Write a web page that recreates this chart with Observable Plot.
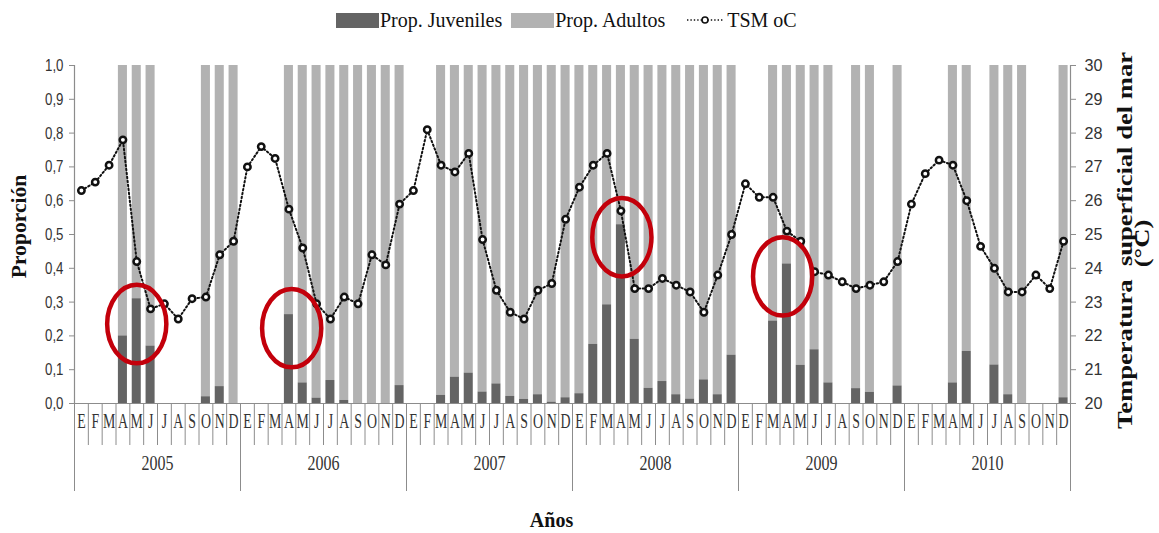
<!DOCTYPE html>
<html><head><meta charset="utf-8">
<script src="https://cdn.jsdelivr.net/npm/d3@7"></script>
<script src="https://cdn.jsdelivr.net/npm/@observablehq/plot@0.6"></script>
<style>
html,body{margin:0;padding:0;background:#fff;}
#wrap{position:relative;width:1159px;height:533px;overflow:hidden;}
#legend{position:absolute;left:336px;top:9px;height:22px;display:flex;align-items:center;font-family:"Liberation Serif",serif;font-size:20px;color:#111;white-space:nowrap;}
.item{display:flex;align-items:center;}
.sw{display:inline-block;width:43px;height:15px;margin-right:1px;}
#chart{position:absolute;left:0;top:40px;}
</style></head><body>
<div id="wrap"><div id="legend"></div><div id="chart"></div></div>
<script>
// ---- data ----
const meses = ["E","F","M","A","M","J","J","A","S","O","N","D"];
const anios = [2005, 2006, 2007, 2008, 2009, 2010];
const series = ["Prop. Juveniles", "Prop. Adultos", "TSM oC"];

const propJuveniles = [
  null, null, null, 0.20, 0.31, 0.17, null, null, null, 0.02, 0.05, 0.00,
  null, null, null, 0.263, 0.061, 0.016, 0.068, 0.009, 0.00, 0.00, 0.00, 0.053,
  null, null, 0.024, 0.078, 0.090, 0.034, 0.058, 0.021, 0.012, 0.026, 0.004, 0.017,
  0.029, 0.175, 0.292, 0.529, 0.190, 0.045, 0.065, 0.026, 0.013, 0.070, 0.026, 0.143,
  null, null, 0.244, 0.413, 0.113, 0.159, 0.061, null, 0.044, 0.033, null, 0.052,
  null, null, null, 0.061, 0.154, null, 0.114, 0.026, 0.00, null, null, 0.017
];
const propAdultos = [
  null, null, null, 0.80, 0.69, 0.83, null, null, null, 0.98, 0.95, 1.00,
  null, null, null, 0.737, 0.939, 0.984, 0.932, 0.991, 1.00, 1.00, 1.00, 0.947,
  null, null, 0.976, 0.922, 0.910, 0.966, 0.942, 0.979, 0.988, 0.974, 0.996, 0.983,
  0.971, 0.825, 0.708, 0.471, 0.810, 0.955, 0.935, 0.974, 0.987, 0.930, 0.974, 0.857,
  null, null, 0.756, 0.587, 0.887, 0.841, 0.939, null, 0.956, 0.967, null, 0.948,
  null, null, null, 0.939, 0.846, null, 0.886, 0.974, 1.00, null, null, 0.983
];
const tsm = [
  26.3, 26.55, 27.05, 27.8, 24.2, 22.8, 22.95, 22.5, 23.1, 23.15, 24.4, 24.8,
  27.0, 27.6, 27.25, 25.75, 24.6, 22.95, 22.5, 23.15, 22.95, 24.4, 24.1, 25.9,
  26.3, 28.1, 27.05, 26.85, 27.4, 24.85, 23.35, 22.7, 22.5, 23.35, 23.55, 25.45,
  26.4, 27.05, 27.4, 25.7, 23.4, 23.4, 23.7, 23.5, 23.3, 22.7, 23.8, 25.0,
  26.5, 26.1, 26.1, 25.1, 24.8, 23.9, 23.8, 23.6, 23.4, 23.5, 23.6, 24.2,
  25.9, 26.8, 27.2, 27.05, 26.0, 24.65, 24.0, 23.3, 23.3, 23.8, 23.4, 24.8
];
const propTicks = [0, 0.1, 0.2, 0.3, 0.4, 0.5, 0.6, 0.7, 0.8, 0.9, 1.0];
const tsmMin = 20, tsmMax = 30;
const tituloY = "Proporción", tituloY2a = "Temperatura  superficial del mar", tituloY2b = "(°C)", tituloX = "Años";
// highlighted (red ellipses): position in months from Jan 2005, and proportion
const resaltoMes = [4.5, 15.7, 39.57, 51.19];
const resaltoProp = [0.235, 0.223, 0.492, 0.376];

// ---- colours ----
const cJuv = "#646464", cAdu = "#b2b2b2", cAxis = "#8c8c8c", cRed = "#c3000b";

// ---- legend ----
const legend = document.getElementById("legend");
legend.innerHTML =
  `<span class="item"><span class="sw" style="background:${cJuv}"></span>${series[0]}</span>` +
  `<span class="item" style="margin-left:9px"><span class="sw" style="background:${cAdu}"></span>${series[1]}</span>` +
  `<span class="item" style="margin-left:21px"><svg width="38" height="14" style="margin-right:3px"><line x1="1" x2="37" y1="7" y2="7" stroke="#111" stroke-width="1.6" stroke-dasharray="1.4,2"/><circle cx="19" cy="7" r="3" fill="#fff" stroke="#111" stroke-width="1.6"/></svg>${series[2]}</span>`;

// ---- table ----
const rows = d3.range(meses.length * anios.length).map(i => ({
  i, mes: meses[i % 12], anio: anios[Math.floor(i / 12)],
  juv: propJuveniles[i], adu: propAdultos[i], tsm: tsm[i]
}));
const bars = rows.filter(d => d.juv != null);
const resaltos = resaltoMes.map((m, k) => ({x: m, y: resaltoProp[k]}));
const toProp = t => (t - tsmMin) / (tsmMax - tsmMin);

const elipse = {
  draw(ctx, size) {
    const ry = Math.sqrt(size / Math.PI), rx = ry * 0.755, k = 0.5523;
    ctx.moveTo(rx, 0);
    ctx.bezierCurveTo(rx, k * ry, k * rx, ry, 0, ry);
    ctx.bezierCurveTo(-k * rx, ry, -rx, k * ry, -rx, 0);
    ctx.bezierCurveTo(-rx, -k * ry, -k * rx, -ry, 0, -ry);
    ctx.bezierCurveTo(k * rx, -ry, rx, -k * ry, rx, 0);
    ctx.closePath();
  }
};

const nMonths = rows.length;
const serif = "Liberation Serif, Times New Roman, serif";

const chart = Plot.plot({
  width: 1159, height: 493,
  marginLeft: 74, marginRight: 89, marginTop: 25, marginBottom: 130,
  style: {fontFamily: "Liberation Sans, Arial, sans-serif", fontSize: "17px", background: "#fff", color: "#333"},
  x: {type: "linear", domain: [0, nMonths]},
  y: {domain: [0, 1]},
  marks: [
    Plot.rect(bars, {x1: d => d.i, x2: d => d.i + 1, y1: d => d.juv, y2: d => d.juv + d.adu, fill: cAdu, insetLeft: 2.4, insetRight: 2.4}),
    Plot.rect(bars, {x1: d => d.i, x2: d => d.i + 1, y1: 0, y2: d => d.juv, fill: cJuv, insetLeft: 2.4, insetRight: 2.4}),
    Plot.ruleY([0], {stroke: cAxis, strokeWidth: 1.2}),
    Plot.ruleX([0, nMonths], {stroke: cAxis, strokeWidth: 1.2}),
    Plot.axisY(propTicks, {anchor: "left", tickSize: 5, tickPadding: 6, stroke: cAxis, fill: "#333", label: null,
      fontSize: 17, tickFormat: d => d.toFixed(1).replace(".", ",")}),
    Plot.axisY(propTicks, {anchor: "right", tickSize: 5, tickPadding: 9, stroke: cAxis, fill: "#333", label: null,
      fontSize: 17, tickFormat: d => String(Math.round(tsmMin + d * (tsmMax - tsmMin)))}),
    Plot.axisX(d3.range(0, nMonths + 1), {tickSize: 42, tickFormat: () => "", stroke: cAxis, label: null}),
    Plot.axisX(d3.range(0, nMonths + 1, 12), {tickSize: 88, tickFormat: () => "", stroke: cAxis, label: null}),
    Plot.text(rows, {x: d => d.i + 0.5, frameAnchor: "bottom", dy: 24, text: "mes", fontFamily: serif, fontSize: 21, fill: "#333"}),
    Plot.text(anios, {x: (d, k) => k * 12 + 6, frameAnchor: "bottom", dy: 66, text: d => String(d), fontFamily: serif, fontSize: 20, fill: "#333"}),
    Plot.text([tituloX], {frameAnchor: "bottom", dy: 123, dx: -21, fontFamily: serif, fontSize: 20, fontWeight: "bold", fill: "#111"}),
    Plot.text([tituloY], {frameAnchor: "left", textAnchor: "middle", dx: -55, dy: -8, rotate: -90, fontFamily: serif, fontSize: 20, fontWeight: "bold", fill: "#111"}),
    Plot.text([tituloY2a], {frameAnchor: "right", textAnchor: "middle", dx: 55, dy: 6, rotate: -90, fontFamily: serif, fontSize: 20, fontWeight: "bold", fill: "#111"}),
    Plot.text([tituloY2b], {frameAnchor: "right", textAnchor: "middle", dx: 72, dy: 9, rotate: -90, fontFamily: serif, fontSize: 20, fontWeight: "bold", fill: "#111"}),
    Plot.line(rows, {x: d => d.i + 0.5, y: d => toProp(d.tsm), stroke: "#111", strokeWidth: 2, strokeDasharray: "1.5,2.5"}),
    Plot.dot(rows, {x: d => d.i + 0.5, y: d => toProp(d.tsm), r: 3.2, fill: "#fff", stroke: "#111", strokeWidth: 2.5}),
    Plot.dot(resaltos, {x: "x", y: "y", r: 39.2, symbol: elipse, fill: "none", stroke: cRed, strokeWidth: 4.5})
  ]
});
document.getElementById("chart").appendChild(chart);

// horizontal squeeze / stretch of texts to match the reference's glyph proportions
function scaleText(t, sx) {
  t.setAttribute("transform", (t.getAttribute("transform") || "") + ` scale(${sx},1)`);
}
chart.querySelectorAll('g[aria-label="y-axis tick label"]').forEach(g => {
  const sx = g.getAttribute("text-anchor") === "end" ? 0.78 : 0.95;
  g.querySelectorAll("text").forEach(t => scaleText(t, sx));
});
const yearStr = anios.map(String);
chart.querySelectorAll("text").forEach(t => {
  if (t.closest('g[aria-label="y-axis tick label"]')) return;
  const s = t.textContent;
  if (meses.includes(s)) scaleText(t, 0.66);
  else if (yearStr.includes(s)) scaleText(t, 0.8);
  else if (s === tituloY) scaleText(t, 1.08);
  else if (s === tituloY2a || s === tituloY2b) scaleText(t, 1.33);
});
</script>
</body></html>
